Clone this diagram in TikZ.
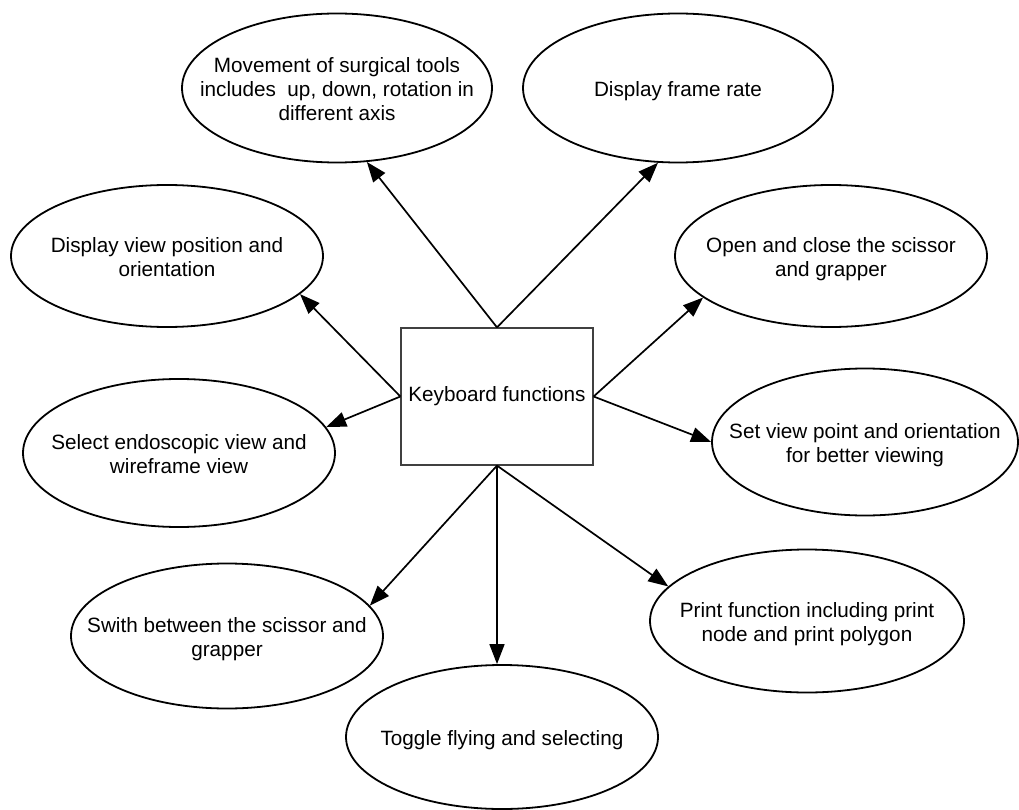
\documentclass[tikz,border=0pt]{standalone}
\usepackage{fontspec}
\setmainfont{Liberation Sans}
\usetikzlibrary{shapes.geometric}
\usetikzlibrary{arrows.meta}
\newcommand{\ellipsetext}[1]{\raisebox{-9pt}[0pt][0pt]{\makebox[0pt]{\begin{tabular}{@{}c@{}}#1\end{tabular}}}}

\begin{document}
\begin{tikzpicture}[x=1pt, y=-1pt]
        % ================= styles =================
        \tikzset{
            % function ellipses
            oval/.style={ellipse, draw=black, line width=1.8pt, fill=white, inner sep=0pt},
            % centre box
            keybox/.style={rectangle, draw=black!75, line width=1.2pt, minimum width=192pt, minimum height=137pt, inner sep=0pt},
            % arrows
            arr/.style={line width=1.7pt, -{Triangle[length=20pt, width=15pt]}}
        }
        \fontsize{20.7}{24}\selectfont

        \useasboundingbox (0,0) rectangle (1019,810);

        % ================= 1. centre box =================
        \node[keybox] (kb) at (497,396.5) {Keyboard functions};

        % ================= 2. ellipses =================
        \node[oval, minimum width=310pt, minimum height=149pt] (move) at (337,88)
            {\ellipsetext{Movement of surgical tools\\includes\ \ up, down, rotation in\\different axis}};
        \node[oval, minimum width=310pt, minimum height=149pt] (rate) at (678,88)
            {\ellipsetext{Display frame rate}};
        \node[oval, minimum width=312pt, minimum height=142pt] (viewpos) at (167,256)
            {\ellipsetext{Display view position and\\orientation}};
        \node[oval, minimum width=312pt, minimum height=142pt] (openclose) at (831,256)
            {\ellipsetext{Open and close the scissor\\and grapper}};
        \node[oval, minimum width=312pt, minimum height=148pt] (select) at (179,453)
            {\ellipsetext{Select endoscopic view and\\wireframe view}};
        \node[oval, minimum width=306pt, minimum height=147pt] (setview) at (865,442)
            {\ellipsetext{Set view point and orientation\\for better viewing}};
        \node[oval, minimum width=312pt, minimum height=145pt] (switch) at (227,636)
            {\ellipsetext{Swith between the scissor and\\grapper}};
        \node[oval, minimum width=314pt, minimum height=143pt] (print) at (807,621)
            {\ellipsetext{Print function including print\\node and print polygon}};
        \node[oval, minimum width=312pt, minimum height=144pt] (toggle) at (502,737)
            {\ellipsetext{Toggle flying and selecting}};

        % ================= 3. arrows =================
        \draw[arr] (kb.north) -- (move.-68);
        \draw[arr] (kb.north) -- (rate.-105);
        \draw[arr] (kb.west) -- (viewpos.-16);
        \draw[arr] (kb.west) -- (select.10);
        \draw[arr] (kb.east) -- (openclose.-162);
        \draw[arr] (kb.east) -- (setview.180);
        \draw[arr] (kb.south) -- (switch.12);
        \draw[arr] (kb.south) -- (print.166);
        \draw[arr] (kb.south) -- (kb.south |- toggle.north);

\end{tikzpicture}
\end{document}
